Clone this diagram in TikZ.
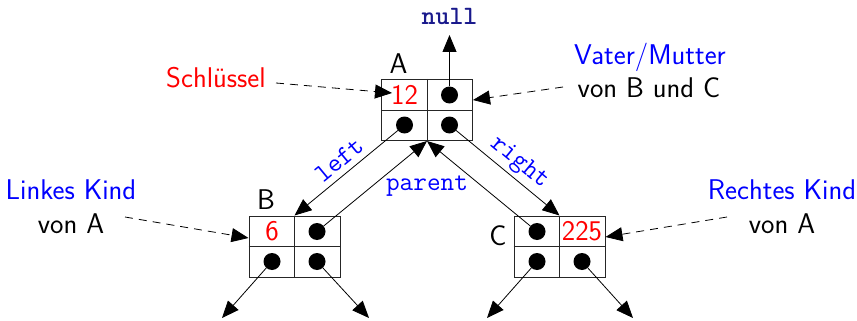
\documentclass[tikz,border=0pt]{standalone}
\usetikzlibrary{arrows.meta,calc}
\definecolor{navy}{RGB}{25,25,140}
\begin{document}
\begin{tikzpicture}[x=1pt,y=-1pt,
  every node/.style={font=\fontsize{28.5}{34}\selectfont\sffamily},
  box/.style={draw=black!85,line width=1pt,minimum width=91pt,minimum height=61pt,inner sep=0pt},
  boxline/.style={draw=black!85,line width=1pt},
  dot/.style={circle,fill=black,minimum size=17pt,inner sep=0pt},
  key/.style={text=red,inner sep=1pt},
  ptr/.style={line width=0.8pt,-{Triangle[length=17pt,width=14pt]}},
  note/.style={line width=0.8pt,dash pattern=on 8pt off 6pt,-{Triangle[length=17pt,width=14pt]}},
  fld/.style={font=\fontsize{26.5}{32}\selectfont\ttfamily,text=blue}
]
\useasboundingbox (0,0) rectangle (857,321);

% boxes
\node[box] (A) at (427,110) {};
\node[box] (B) at (294.5,246.5) {};
\node[box] (C) at (559.5,246.5) {};
\foreach \n in {A,B,C}{
  \draw[boxline] (\n.north) -- (\n.south) (\n.west) -- (\n.east);
}

% keys
\node[key] (A-k) at (404.5,95) {12};
\node[key] (B-k) at (272,231.5) {6};
\node[key] (C-k) at (582,231.5) {225};

% dots
\node[dot] (A-p) at (449.5,95) {};
\node[dot] (A-l) at (404.5,125) {};
\node[dot] (A-r) at (449.5,125) {};
\node[dot] (B-p) at (317,231.5) {};
\node[dot] (B-l) at (272,261.5) {};
\node[dot] (B-r) at (317,261.5) {};
\node[dot] (C-p) at (537,231.5) {};
\node[dot] (C-l) at (537,261.5) {};
\node[dot] (C-r) at (582,261.5) {};

% node names
\node[anchor=base] (lA) at (398.5,74) {A};
\node[anchor=base] (lB) at (266,209) {B};
\node[anchor=base] (lC) at (498,245) {C};

% null
\node[font=\fontsize{26.5}{32}\selectfont\ttfamily\bfseries,text=navy,anchor=base] (null) at (449.5,25) {null};
\coordinate (nullend) at (449.5,35);
\draw[ptr] (A-p) -- (nullend);

% tree pointers
\draw[ptr] (A-l) -- (B.north);
\draw[ptr] (A-r) -- (C.north);
\draw[ptr] (B-p) -- (A.south);
\draw[ptr] (C-p) -- (A.south);

\node[fld,rotate=39.6] (lleft) at (339,160) {left};
\node[fld,rotate=-39.6] (lright) at (519,163) {right};
\node[fld,anchor=base] (lparent) at (427,190) {parent};

% children
\coordinate (B-lc) at (222,318);
\coordinate (B-rc) at (369,318);
\coordinate (C-lc) at (487,318);
\coordinate (C-rc) at (633,318);
\draw[ptr] (B-l) -- (B-lc);
\draw[ptr] (B-r) -- (B-rc);
\draw[ptr] (C-l) -- (C-lc);
\draw[ptr] (C-r) -- (C-rc);

% annotations
\node[text=red,anchor=base] (schl) at (216,88) {Schlüssel};
\node[text=blue,anchor=base] (vat1) at (650,65) {Vater/Mutter};
\node[anchor=base] (vat2) at (649,97) {von B und C};
\node[text=blue,anchor=base] (lk1) at (71,199) {Linkes Kind};
\node[anchor=base] (lk2) at (71,233) {von A};
\node[text=blue,anchor=base] (rk1) at (782,199) {Rechtes Kind};
\node[anchor=base] (rk2) at (782,233) {von A};

\coordinate (schl-s) at (276,83);
\coordinate (vat-s) at (563,87);
\coordinate (lk-s) at (125,217);
\coordinate (rk-s) at (727,217);
\coordinate (A-t) at (392,93);
\coordinate (A-e) at ($(A.east)+(0,-10)$);
\coordinate (B-e) at ($(B.west)+(0,-8.5)$);
\coordinate (C-e) at ($(C.east)+(0,-9.5)$);
\draw[note] (schl-s) -- (A-t);
\draw[note] (vat-s) -- (A-e);
\draw[note] (lk-s) -- (B-e);
\draw[note] (rk-s) -- (C-e);
\end{tikzpicture}
\end{document}
